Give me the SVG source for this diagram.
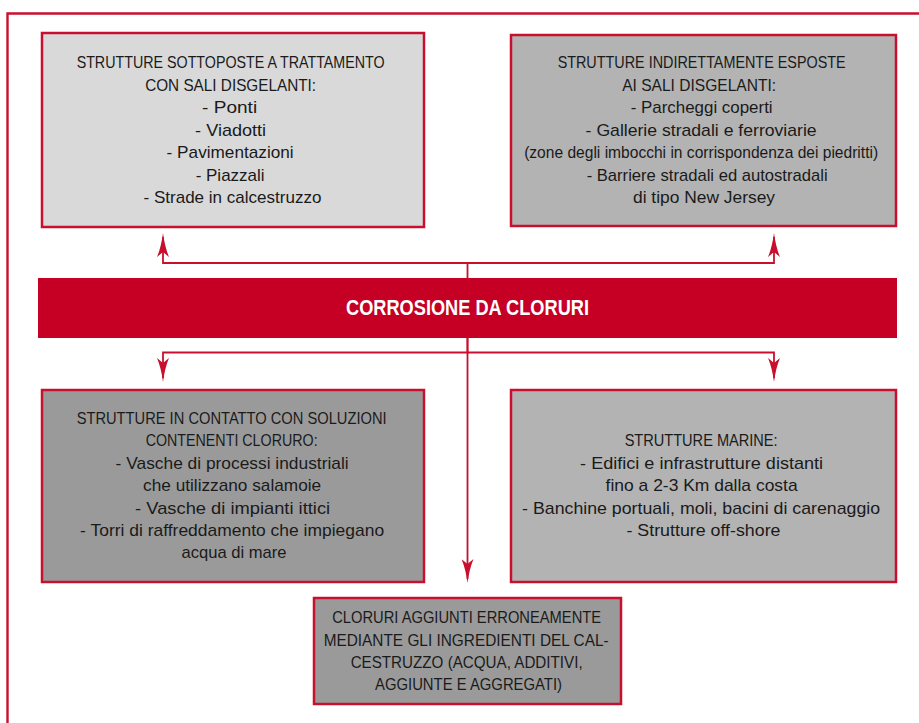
<svg xmlns="http://www.w3.org/2000/svg" width="919" height="723" viewBox="0 0 919 723">
  <defs>
    <style>
      .frame { fill: none; stroke: #c8102e; stroke-width: 2.4; }
      .box { stroke: #c8102e; stroke-width: 2.5; }
      .light { fill: #d9d9d9; }
      .mid { fill: #b3b3b3; }
      .dark { fill: #9a9a9a; }
      .banner { fill: #c60024; }
      .conn { fill: none; stroke: #c8102e; stroke-width: 1.8; }
      .txt { font-family: "Liberation Sans", Arial, sans-serif; font-size: 17px; fill: #1a1a1a; text-anchor: middle; }
      .title { font-family: "Liberation Sans", Arial, sans-serif; font-size: 22px; font-weight: bold; fill: #ffffff; text-anchor: middle; }
    </style>
    <marker id="arrow" markerUnits="userSpaceOnUse" markerWidth="24" markerHeight="12" viewBox="0 0 24 12" refX="20" refY="6" orient="auto">
      <path d="M24,6 Q10,4.2 0,0 L5,6 L0,12 Q10,7.8 24,6 Z" fill="#c8102e"/>
    </marker>
  </defs>

  <rect width="919" height="723" fill="#ffffff"/>

  <!-- outer frame -->
  <path class="frame" d="M7.5,740 V13.5 H930"/>

  <!-- connectors -->
  <g id="connectors">
    <path class="conn" d="M467.5,278 V263 H163 V237" marker-end="url(#arrow)"/>
    <path class="conn" d="M467.5,263 H774 V237" marker-end="url(#arrow)"/>
    <path class="conn" d="M467.5,338 V352.5 H163 V378" marker-end="url(#arrow)"/>
    <path class="conn" d="M467.5,352.5 H774 V378" marker-end="url(#arrow)"/>
    <path class="conn" d="M467.5,338 V579" marker-end="url(#arrow)"/>
  </g>

  <!-- central banner -->
  <g id="corrosione">
    <rect class="banner" x="38" y="278" width="859" height="60"/>
    <text class="title" x="467.5" y="315" textLength="243" lengthAdjust="spacingAndGlyphs">CORROSIONE DA CLORURI</text>
  </g>

  <!-- de-icing salts -->
  <g id="sali-disgelanti">
    <rect class="box light" x="42" y="33" width="382" height="194"/>
    <text class="txt">
      <tspan x="233" y="68" textLength="308" lengthAdjust="spacingAndGlyphs">STRUTTURE SOTTOPOSTE A TRATTAMENTO</tspan>
      <tspan x="233" y="90.5" textLength="171" lengthAdjust="spacingAndGlyphs">CON SALI DISGELANTI:</tspan>
      <tspan x="232" y="113" textLength="55" lengthAdjust="spacingAndGlyphs">- Ponti</tspan>
      <tspan x="233" y="135.5" textLength="71" lengthAdjust="spacingAndGlyphs">- Viadotti</tspan>
      <tspan x="232.5" y="158" textLength="127" lengthAdjust="spacingAndGlyphs">- Pavimentazioni</tspan>
      <tspan x="232.5" y="180.5" textLength="69" lengthAdjust="spacingAndGlyphs">- Piazzali</tspan>
      <tspan x="232.5" y="203" textLength="178" lengthAdjust="spacingAndGlyphs">- Strade in calcestruzzo</tspan>
    </text>
  </g>

  <!-- indirect exposure -->
  <g id="esposte-indirettamente">
    <rect class="box mid" x="511" y="35" width="385" height="191"/>
    <text class="txt">
      <tspan x="704" y="68" textLength="288" lengthAdjust="spacingAndGlyphs">STRUTTURE INDIRETTAMENTE ESPOSTE</tspan>
      <tspan x="701.5" y="90.5" textLength="154" lengthAdjust="spacingAndGlyphs">AI SALI DISGELANTI:</tspan>
      <tspan x="704" y="113" textLength="142" lengthAdjust="spacingAndGlyphs">- Parcheggi coperti</tspan>
      <tspan x="703.5" y="135.5" textLength="231" lengthAdjust="spacingAndGlyphs">- Gallerie stradali e ferroviarie</tspan>
      <tspan x="703.5" y="158" textLength="354" lengthAdjust="spacingAndGlyphs">(zone degli imbocchi in corrispondenza dei piedritti)</tspan>
      <tspan x="709.5" y="180.5" textLength="241" lengthAdjust="spacingAndGlyphs">- Barriere stradali ed autostradali</tspan>
      <tspan x="704" y="203" textLength="142" lengthAdjust="spacingAndGlyphs">di tipo New Jersey</tspan>
    </text>
  </g>

  <!-- chloride solutions -->
  <g id="soluzioni-cloruro">
    <rect class="box dark" x="42" y="390" width="382" height="192"/>
    <text class="txt">
      <tspan x="234" y="423.5" textLength="310" lengthAdjust="spacingAndGlyphs">STRUTTURE IN CONTATTO CON SOLUZIONI</tspan>
      <tspan x="234" y="446" textLength="172" lengthAdjust="spacingAndGlyphs">CONTENENTI CLORURO:</tspan>
      <tspan x="234.5" y="468.5" textLength="233" lengthAdjust="spacingAndGlyphs">- Vasche di processi industriali</tspan>
      <tspan x="234.5" y="491" textLength="178" lengthAdjust="spacingAndGlyphs">che utilizzano salamoie</tspan>
      <tspan x="235" y="513.5" textLength="195" lengthAdjust="spacingAndGlyphs">- Vasche di impianti ittici</tspan>
      <tspan x="234.5" y="536" textLength="304" lengthAdjust="spacingAndGlyphs">- Torri di raffreddamento che impiegano</tspan>
      <tspan x="234" y="558" textLength="105" lengthAdjust="spacingAndGlyphs">acqua di mare</tspan>
    </text>
  </g>

  <!-- marine structures -->
  <g id="strutture-marine">
    <rect class="box mid" x="511" y="390" width="385" height="192"/>
    <text class="txt">
      <tspan x="703.5" y="446" textLength="153" lengthAdjust="spacingAndGlyphs">STRUTTURE MARINE:</tspan>
      <tspan x="704" y="468.5" textLength="243" lengthAdjust="spacingAndGlyphs">- Edifici e infrastrutture distanti</tspan>
      <tspan x="704" y="491" textLength="192" lengthAdjust="spacingAndGlyphs">fino a 2-3 Km dalla costa</tspan>
      <tspan x="703.5" y="513.5" textLength="358" lengthAdjust="spacingAndGlyphs">- Banchine portuali, moli, bacini di carenaggio</tspan>
      <tspan x="703.5" y="536" textLength="154" lengthAdjust="spacingAndGlyphs">- Strutture off-shore</tspan>
    </text>
  </g>

  <!-- chlorides from mix ingredients -->
  <g id="cloruri-aggiunti">
    <rect class="box dark" x="314" y="598" width="307" height="106"/>
    <text class="txt">
      <tspan x="469" y="623" textLength="269" lengthAdjust="spacingAndGlyphs">CLORURI AGGIUNTI ERRONEAMENTE</tspan>
      <tspan x="468.5" y="645.5" textLength="285" lengthAdjust="spacingAndGlyphs">MEDIANTE GLI INGREDIENTI DEL CAL-</tspan>
      <tspan x="469" y="668" textLength="232" lengthAdjust="spacingAndGlyphs">CESTRUZZO (ACQUA, ADDITIVI,</tspan>
      <tspan x="468.5" y="690" textLength="187" lengthAdjust="spacingAndGlyphs">AGGIUNTE E AGGREGATI)</tspan>
    </text>
  </g>
</svg>
